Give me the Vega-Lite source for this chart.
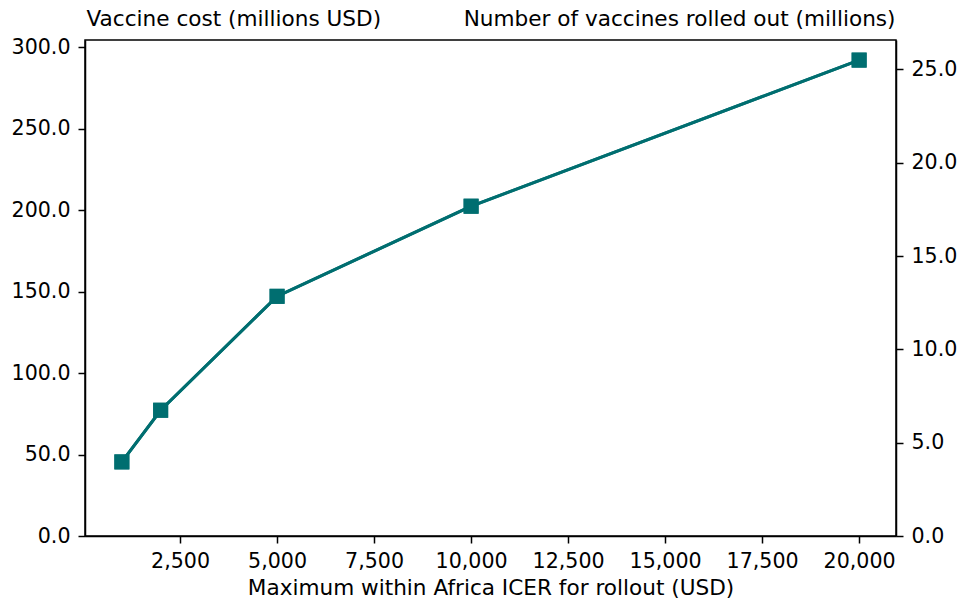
{
  "$schema": "https://vega.github.io/schema/vega-lite/v6.json",
  "autosize": {"type": "none"},
  "width": 811,
  "height": 496,
  "padding": {"left": 85, "top": 40, "right": 67, "bottom": 69},
  "background": "white",
  "data": {
    "values": [
      {"icer": 1000, "cost": 45.5, "vaccines": 3.97},
      {"icer": 2000, "cost": 77.2, "vaccines": 6.74},
      {"icer": 5000, "cost": 147.2, "vaccines": 12.84},
      {"icer": 10000, "cost": 202.5, "vaccines": 17.67},
      {"icer": 20000, "cost": 292.2, "vaccines": 25.5}
    ]
  },
  "encoding": {
    "x": {
      "field": "icer",
      "type": "quantitative",
      "scale": {"domain": [50, 20950], "nice": false, "zero": false},
      "axis": {
        "title": "Maximum within Africa ICER for rollout (USD)",
        "values": [2500, 5000, 7500, 10000, 12500, 15000, 17500, 20000],
        "format": ",d",
        "labelPadding": 8,
        "titlePadding": 6
      }
    }
  },
  "layer": [
    {
      "mark": {"type": "line", "color": "#006e70", "strokeWidth": 3,
        "point": {"shape": "square", "size": 225, "filled": true, "color": "#006e70", "opacity": 1}},
      "encoding": {
        "y": {
          "field": "cost",
          "type": "quantitative",
          "scale": {"domain": [0, 304.5], "nice": false},
          "axis": {
            "orient": "left",
            "title": "Vaccine cost (millions USD)",
            "format": ".1f",
            "values": [0, 50, 100, 150, 200, 250, 300],
            "titleAngle": 0,
            "titleAlign": "left",
            "titleBaseline": "alphabetic",
            "titleX": 1,
            "titleY": -15,
            "labelPadding": 8
          }
        }
      }
    },
    {
      "mark": {"type": "line", "color": "#006e70", "strokeWidth": 3,
        "point": {"shape": "square", "size": 225, "filled": true, "color": "#006e70", "opacity": 1}},
      "encoding": {
        "y": {
          "field": "vaccines",
          "type": "quantitative",
          "scale": {"domain": [0, 26.58], "nice": false},
          "axis": {
            "orient": "right",
            "title": "Number of vaccines rolled out (millions)",
            "format": ".1f",
            "values": [0, 5, 10, 15, 20, 25],
            "titleAngle": 0,
            "titleAlign": "right",
            "titleBaseline": "alphabetic",
            "titleX": -1,
            "titleY": -15,
            "labelPadding": 8
          }
        }
      }
    }
  ],
  "resolve": {"scale": {"y": "independent"}},
  "config": {
    "view": {"stroke": "black", "strokeWidth": 1.5},
    "font": "DejaVu Sans",
    "axis": {
      "grid": false,
      "labelFont": "DejaVu Sans",
      "labelFontSize": 20.6,
      "labelColor": "black",
      "titleFont": "DejaVu Sans",
      "titleFontSize": 21.6,
      "titleFontWeight": "normal",
      "titleColor": "black",
      "tickColor": "black",
      "tickSize": 7,
      "tickWidth": 1.5,
      "domainColor": "black",
      "domainWidth": 1.5,
      "labelFlush": false,
      "labelOverlap": false
    }
  }
}
